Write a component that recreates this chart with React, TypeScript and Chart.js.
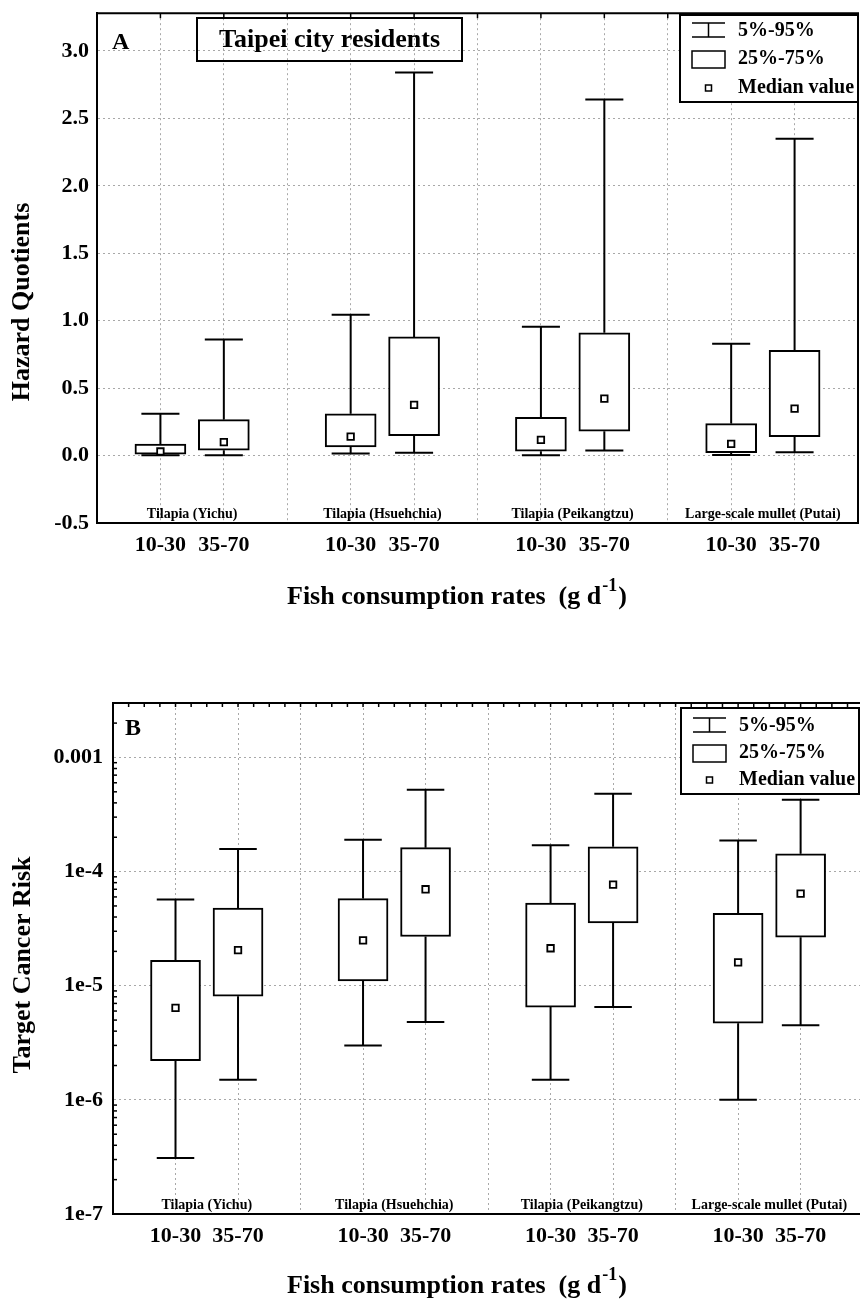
import React, { useEffect, useRef } from 'react';
import { Chart, registerables } from 'chart.js';
Chart.register(...registerables);

const FONT = '"Liberation Serif", "Times New Roman", Times, serif';

// ---- data ----
const groupNames = ['Tilapia (Yichu)', 'Tilapia (Hsuehchia)', 'Tilapia (Peikangtzu)', 'Large-scale mullet (Putai)'];
const rateLabels = ['10-30', '35-70'];
const boxPositions = [1, 2, 4, 5, 7, 8, 10, 11];
const xGridPositions = [0, 1, 2, 3, 4, 5, 6, 7, 8, 9, 10, 11, 12];

// Hazard quotients (A)
const hqP5 = [0.002, 0.003, 0.015, 0.02, 0.002, 0.037, 0.005, 0.024];
const hqQ1 = [0.01, 0.04, 0.064, 0.148, 0.032, 0.18, 0.022, 0.141];
const hqMed = [0.03, 0.1, 0.14, 0.376, 0.116, 0.422, 0.087, 0.348];
const hqQ3 = [0.085, 0.267, 0.31, 0.88, 0.284, 0.91, 0.237, 0.78];
const hqP95 = [0.31, 0.86, 1.045, 2.84, 0.955, 2.64, 0.83, 2.35];
const hqTicks = [-0.5, 0, 0.5, 1, 1.5, 2, 2.5, 3];

// Target cancer risk (B)
const crP5 = [3.1e-7, 1.5e-6, 3.0e-6, 4.8e-6, 1.5e-6, 6.5e-6, 1.0e-6, 4.5e-6];
const crQ1 = [2.2e-6, 8.1e-6, 1.1e-5, 2.7e-5, 6.5e-6, 3.55e-5, 4.7e-6, 2.66e-5];
const crMed = [6.4e-6, 2.05e-5, 2.5e-5, 7.0e-5, 2.13e-5, 7.7e-5, 1.6e-5, 6.4e-5];
const crQ3 = [1.67e-5, 4.8e-5, 5.8e-5, 1.62e-4, 5.3e-5, 1.65e-4, 4.3e-5, 1.43e-4];
const crP95 = [5.7e-5, 1.58e-4, 1.9e-4, 5.2e-4, 1.7e-4, 4.8e-4, 1.87e-4, 4.25e-4];
const crTicks = [1e-7, 1e-6, 1e-5, 1e-4, 1e-3];
const crTickLabels = ['1e-7', '1e-6', '1e-5', '1e-4', '0.001'];

const legendLabels = ['5%-95%', '25%-75%', 'Median value'];

// ---- helpers ----
function whiskerData(p5: number[], q1: number[], q3: number[], p95: number[], capHalf: number) {
  const pts: any[] = [];
  boxPositions.forEach((x, i) => {
    pts.push({ x: x - capHalf, y: p95[i] }, { x: x + capHalf, y: p95[i] }, { x, y: null });
    pts.push({ x, y: p95[i] }, { x, y: q3[i] }, { x, y: null });
    pts.push({ x, y: q1[i] }, { x, y: p5[i] }, { x, y: null });
    pts.push({ x: x - capHalf, y: p5[i] }, { x: x + capHalf, y: p5[i] }, { x, y: null });
  });
  return pts;
}

function xTickLabel(v: number) {
  const i = boxPositions.indexOf(v);
  return i >= 0 ? rateLabels[i % 2] : '';
}

const annotPlugin = {
  id: 'annot',
  afterDraw(chart: any, _args: any, o: any) {
    const { ctx, chartArea: ca, scales } = chart;
    const xs = scales.x, ys = scales.y;
    ctx.save();
    // frame
    ctx.strokeStyle = '#000';
    ctx.lineWidth = 2;
    ctx.beginPath();
    ctx.moveTo(ca.left, ca.top);
    ctx.lineTo(ca.right, ca.top);
    if (o.rightBorder) ctx.lineTo(ca.right, ca.bottom);
    ctx.stroke();
    // inward ticks
    ctx.lineWidth = 1.5;
    (o.topTicks || []).forEach((v: number) => {
      const px = xs.getPixelForValue(v);
      ctx.beginPath();
      ctx.moveTo(px, ca.top);
      ctx.lineTo(px, ca.top + o.tickLen);
      ctx.stroke();
    });
    (o.leftTicks || []).forEach((v: number) => {
      const py = ys.getPixelForValue(v);
      ctx.beginPath();
      ctx.moveTo(ca.left, py);
      ctx.lineTo(ca.left + o.tickLen, py);
      ctx.stroke();
    });
    // group labels
    ctx.fillStyle = '#000';
    ctx.font = `bold 14px ${FONT}`;
    ctx.textAlign = 'center';
    ctx.textBaseline = 'middle';
    groupNames.forEach((name, g) => {
      const cx = xs.getPixelForValue((boxPositions[2 * g] + boxPositions[2 * g + 1]) / 2);
      ctx.fillText(name, cx, ca.bottom - o.groupLabelOffset);
    });
    // panel letter
    ctx.font = `bold 24px ${FONT}`;
    ctx.textAlign = 'left';
    ctx.fillText(o.letter.text, o.letter.x, o.letter.y);
    // title box
    if (o.titleBox) {
      const t = o.titleBox;
      ctx.lineWidth = 2;
      ctx.strokeRect(t.x, t.y, t.w, t.h);
      ctx.font = `bold 26px ${FONT}`;
      ctx.textAlign = 'center';
      ctx.fillText(t.text, t.x + t.w / 2, t.y + t.h / 2 + 1);
    }
    // legend
    const L = o.legend;
    ctx.fillStyle = '#fff';
    ctx.fillRect(L.x, L.y, L.w, L.h);
    ctx.fillStyle = '#000';
    ctx.lineWidth = 2;
    ctx.strokeRect(L.x, L.y, L.w, L.h);
    const sx = L.x + 12, sw = 33, scx = sx + sw / 2;
    const r0 = L.y + L.rows[0], r1 = L.y + L.rows[1], r2 = L.y + L.rows[2];
    ctx.lineWidth = 1.5;
    ctx.beginPath();
    ctx.moveTo(sx, r0 - 8); ctx.lineTo(sx + sw, r0 - 8);
    ctx.moveTo(scx, r0 - 8); ctx.lineTo(scx, r0 + 6);
    ctx.moveTo(sx, r0 + 6); ctx.lineTo(sx + sw, r0 + 6);
    ctx.stroke();
    ctx.strokeRect(sx, r1 - 8, sw, 17);
    ctx.fillStyle = '#fff';
    ctx.fillRect(scx - 3, r2 - 3, 6, 6);
    ctx.strokeRect(scx - 3, r2 - 3, 6, 6);
    ctx.fillStyle = '#000';
    ctx.font = `bold 20px ${FONT}`;
    ctx.textAlign = 'left';
    ctx.textBaseline = 'middle';
    ctx.fillText(legendLabels[0], L.x + 58, r0);
    ctx.fillText(legendLabels[1], L.x + 58, r1);
    ctx.fillText(legendLabels[2], L.x + 58, r2);
    // y title
    ctx.save();
    ctx.translate(o.yTitle.x, o.yTitle.y);
    ctx.rotate(-Math.PI / 2);
    ctx.font = `bold 26px ${FONT}`;
    ctx.textAlign = 'center';
    ctx.fillText(o.yTitle.text, 0, 0);
    ctx.restore();
    // x title with superscript
    ctx.font = `bold 26px ${FONT}`;
    ctx.textAlign = 'left';
    ctx.textBaseline = 'middle';
    const main = 'Fish consumption rates  (g d';
    let x = o.xTitle.x;
    ctx.fillText(main, x, o.xTitle.y);
    x += ctx.measureText(main).width + 1;
    ctx.font = `bold 18px ${FONT}`;
    ctx.fillText('-1', x, o.xTitle.y - 11);
    x += ctx.measureText('-1').width + 1;
    ctx.font = `bold 26px ${FONT}`;
    ctx.fillText(')', x, o.xTitle.y);
    ctx.restore();
  },
};

const gridX = { color: '#a8a8a8', lineWidth: 1, drawTicks: true, tickLength: 9, tickColor: 'rgba(0,0,0,0)', offset: false };
const gridY = { color: '#a8a8a8', lineWidth: 1, drawTicks: true, tickLength: 8, tickColor: 'rgba(0,0,0,0)', offset: false };
const borderCommon = { color: '#000', width: 2, dash: [2, 3] };
const tickFont = { family: FONT, size: 22, weight: 'bold' as const };

function makeDatasets(p5: number[], q1: number[], med: number[], q3: number[], p95: number[], capHalf: number, barW: number) {
  return [
    {
      type: 'scatter' as const,
      data: boxPositions.map((x, i) => ({ x, y: med[i] })),
      pointStyle: 'rect',
      pointRadius: 4.6,
      pointBackgroundColor: '#fff',
      pointBorderColor: '#000',
      pointBorderWidth: 1.8,
      backgroundColor: '#fff',
      borderColor: '#000',
      order: 0,
    },
    {
      type: 'bar' as const,
      data: boxPositions.map((x, i) => ({ x, y: [q1[i], q3[i]] })),
      backgroundColor: '#fff',
      borderColor: '#000',
      borderWidth: 2,
      borderSkipped: false,
      barThickness: barW,
      order: 1,
    },
    {
      type: 'line' as const,
      data: whiskerData(p5, q1, q3, p95, capHalf),
      borderColor: '#000',
      borderWidth: 2,
      pointRadius: 0,
      spanGaps: false,
      fill: false,
      order: 2,
    },
  ];
}

function configA(): any {
  return {
    type: 'bar',
    data: { datasets: makeDatasets(hqP5, hqQ1, hqMed, hqQ3, hqP95, 0.3, 51) },
    plugins: [annotPlugin],
    options: {
      responsive: false,
      animation: false,
      layout: { autoPadding: false, padding: { top: 13, right: 2, bottom: 0, left: 0 } },
      plugins: {
        legend: { display: false },
        tooltip: { enabled: false },
        annot: {
          rightBorder: true,
          topTicks: xGridPositions.slice(1, -1),
          tickLen: 5,
          groupLabelOffset: 9,
          letter: { text: 'A', x: 112, y: 43 },
          titleBox: { text: 'Taipei city residents', x: 197, y: 18, w: 265, h: 43 },
          legend: { x: 680, y: 15, w: 178, h: 87, rows: [16, 44, 73] },
          yTitle: { text: 'Hazard Quotients', x: 22, y: 302 },
          xTitle: { x: 287, y: 597 },
        },
      },
      scales: {
        x: {
          type: 'linear', min: 0, max: 12, offset: false,
          afterBuildTicks: (s: any) => { s.ticks = xGridPositions.map((v) => ({ value: v })); },
          afterFit: (s: any) => { s.height = 117; },
          ticks: { callback: (v: any) => xTickLabel(Number(v)), font: tickFont, color: '#000', padding: 0, maxRotation: 0, autoSkip: false },
          grid: gridX,
          border: borderCommon,
        },
        y: {
          type: 'linear', min: -0.5, max: 3.28,
          afterBuildTicks: (s: any) => { s.ticks = hqTicks.map((v) => ({ value: v })); },
          afterFit: (s: any) => { s.width = 97; },
          ticks: { callback: (v: any) => Number(v).toFixed(1), font: tickFont, color: '#000', padding: 0 },
          grid: gridY,
          border: borderCommon,
        },
      },
    },
  };
}

const minorLog: number[] = [];
[-7, -6, -5, -4, -3].forEach((e) => {
  [2, 3, 4, 5, 6, 7, 8, 9].forEach((m) => {
    const v = m * Math.pow(10, e);
    if (v < 3e-3) minorLog.push(v);
  });
});
const quarterTicks: number[] = [];
for (let k = 1; k < 48; k++) quarterTicks.push(k / 4);

function configB(): any {
  return {
    type: 'bar',
    data: { datasets: makeDatasets(crP5, crQ1, crMed, crQ3, crP95, 0.3, 50) },
    plugins: [annotPlugin],
    options: {
      responsive: false,
      animation: false,
      layout: { autoPadding: false, padding: { top: 63, right: 0, bottom: 0, left: 0 } },
      plugins: {
        legend: { display: false },
        tooltip: { enabled: false },
        annot: {
          rightBorder: false,
          topTicks: quarterTicks,
          leftTicks: minorLog,
          tickLen: 4,
          groupLabelOffset: 9,
          letter: { text: 'B', x: 125, y: 89 },
          legend: { x: 681, y: 68, w: 178, h: 86, rows: [18, 45, 72] },
          yTitle: { text: 'Target Cancer Risk', x: 23, y: 325 },
          xTitle: { x: 287, y: 646 },
        },
      },
      scales: {
        x: {
          type: 'linear', min: 0, max: 11.95, offset: false,
          afterBuildTicks: (s: any) => { s.ticks = xGridPositions.filter((v) => v <= 11.95).map((v) => ({ value: v })); },
          afterFit: (s: any) => { s.height = 88; },
          ticks: { callback: (v: any) => xTickLabel(Number(v)), font: tickFont, color: '#000', padding: 0, maxRotation: 0, autoSkip: false },
          grid: gridX,
          border: borderCommon,
        },
        y: {
          type: 'logarithmic', min: 1e-7, max: 3e-3,
          afterBuildTicks: (s: any) => { s.ticks = crTicks.map((v) => ({ value: v })); },
          afterFit: (s: any) => { s.width = 113; },
          ticks: { callback: (_v: any, i: number) => crTickLabels[i], font: tickFont, color: '#000', padding: 2 },
          grid: gridY,
          border: borderCommon,
        },
      },
    },
  };
}

function ChartCanvas({ make, top, height }: { make: () => any; top: number; height: number }) {
  const ref = useRef<HTMLCanvasElement>(null);
  useEffect(() => {
    const chart = new Chart(ref.current as HTMLCanvasElement, make());
    return () => chart.destroy();
  }, [make]);
  return (
    <canvas
      ref={ref}
      width={860}
      height={height}
      style={{ position: 'absolute', left: 0, top, width: 860, height, display: 'block' }}
    />
  );
}

export default function App() {
  return (
    <div style={{ position: 'absolute', left: 0, top: 0, width: 860, height: 1302, background: '#fff', overflow: 'hidden' }}>
      <ChartCanvas make={configA} top={0} height={640} />
      <ChartCanvas make={configB} top={640} height={662} />
    </div>
  );
}
